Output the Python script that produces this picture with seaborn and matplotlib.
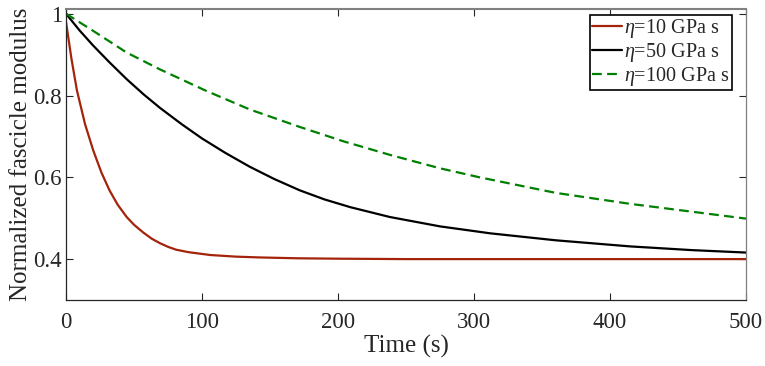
import matplotlib
matplotlib.use("Agg")
import matplotlib.pyplot as plt
import seaborn as sns
import pandas as pd

# Values
t_10 = [0, 4, 8, 14, 20, 26, 32, 38, 44.6, 50, 56.8, 63, 69, 75, 81, 90, 106, 125, 143, 170, 200, 250, 300, 400, 500]
v_10 = [0.980, 0.890, 0.813, 0.730, 0.666, 0.612, 0.568, 0.533, 0.503, 0.484, 0.465, 0.450, 0.439,
        0.430, 0.423, 0.417, 0.410, 0.406, 0.404, 0.402, 0.401, 0.400, 0.400, 0.400, 0.400]

t_50 = [0, 10, 20, 32, 44.6, 57, 69, 85, 100, 117, 135, 153, 172, 190, 209, 238, 275, 312, 360, 415, 460, 500]
v_50 = [1.000, 0.959, 0.922, 0.881, 0.840, 0.803, 0.770, 0.730, 0.695, 0.660, 0.626, 0.596, 0.568,
        0.546, 0.527, 0.503, 0.480, 0.463, 0.446, 0.431, 0.422, 0.416]

t_100 = [0, 20, 44.6, 69, 102, 135, 172, 204, 238, 275, 304, 360, 415, 460, 500]
v_100 = [1.000, 0.958, 0.905, 0.864, 0.813, 0.766, 0.723, 0.688, 0.655, 0.622, 0.600, 0.562, 0.535, 0.516, 0.499]

labels = [r"$\eta$=10 GPa s", r"$\eta$=50 GPa s", r"$\eta$=100 GPa s"]
x_ticks = [0, 100, 200, 300, 400, 500]
y_ticks = [0.4, 0.6, 0.8, 1.0]
y_ticklabels = ["0.4", "0.6", "0.8", "1"]

sns.set_style("white")
plt.rcParams["font.family"] = ["Liberation Serif", "DejaVu Serif"]
plt.rcParams["mathtext.fontset"] = "custom"
plt.rcParams["mathtext.rm"] = "Liberation Serif"
plt.rcParams["mathtext.it"] = "Liberation Serif:italic"

fig = plt.figure(figsize=(7.65, 3.66), dpi=100)
ax = fig.add_axes([66 / 765, 1 - 300 / 366, 680 / 765, 291 / 366])

colors = ["#A3240A", "#000000", "#008000"]
styles = ["-", "-", (0, (4.4, 2.4))]
series = [(t_10, v_10), (t_50, v_50), (t_100, v_100)]
for (t, v), lab, c, ls in zip(series, labels, colors, styles):
    df = pd.DataFrame({"t": t, "v": v})
    sns.lineplot(data=df, x="t", y="v", ax=ax, color=c, linestyle=ls, linewidth=1.6, label=lab)

ax.set_xlim(0, 500)
ax.set_ylim(0.3, 1.0115)
ax.set_xticks(x_ticks)
ax.set_xticklabels([str(x) for x in x_ticks])
ax.set_yticks(y_ticks)
ax.set_yticklabels(y_ticklabels)
ax.tick_params(direction="in", length=5, width=0.8, labelsize=16.5, color="#262626",
               top=True, right=True, bottom=True, left=True, pad=3)
ax.tick_params(axis="x", pad=9)
for s in ax.spines.values():
    s.set_visible(True)
    s.set_color("#262626")
    s.set_linewidth(0.9)
ax.spines["top"].set_color("#808080")
ax.spines["top"].set_linewidth(1.5)
ax.spines["right"].set_color("#808080")

ax.set_xlabel("Time (s)", fontsize=18, labelpad=1)
ax.set_ylabel("Normalized fascicle modulus", fontsize=18, labelpad=1)

leg = ax.legend(loc="upper right", bbox_to_anchor=(0.979, 0.979), fontsize=14.5, frameon=True,
                fancybox=False, edgecolor="black", handlelength=1.5, handletextpad=0.1,
                borderpad=0.1, labelspacing=0.05, borderaxespad=0.0, framealpha=1)
leg.get_frame().set_linewidth(1.2)

fig.savefig("out.png", dpi=100)
